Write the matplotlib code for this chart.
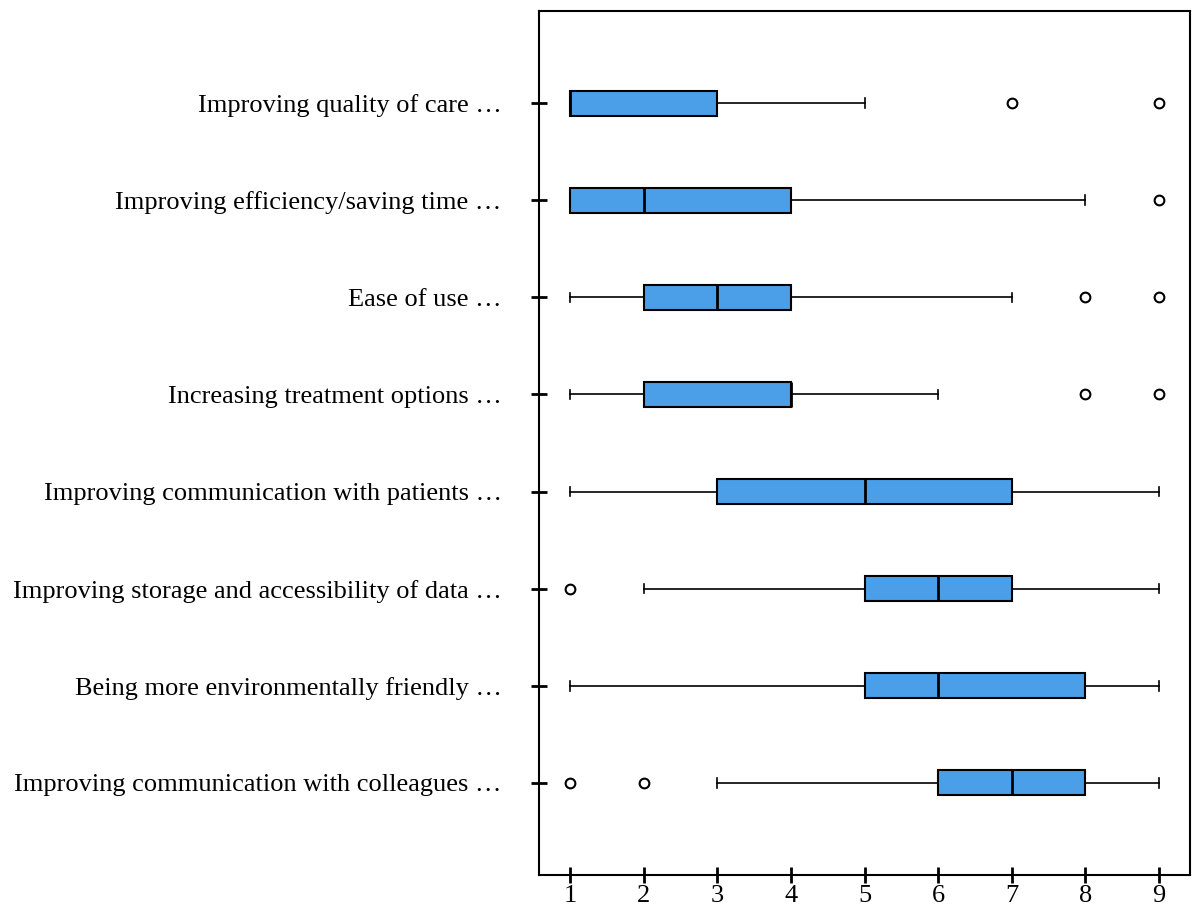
import matplotlib
matplotlib.use('Agg')
import matplotlib.pyplot as plt

# categories listed top to bottom
labels = [
  'Improving quality of care …',
  'Improving efficiency/saving time …',
  'Ease of use …',
  'Increasing treatment options …',
  'Improving communication with patients …',
  'Improving storage and accessibility of data …',
  'Being more environmentally friendly …',
  'Improving communication with colleagues …',
]
whislo = [1, 1, 1, 1, 1, 2, 1, 3]
q1 = [1, 1, 2, 2, 3, 5, 5, 6]
med = [1, 2, 3, 4, 5, 6, 6, 7]
q3 = [3, 4, 4, 4, 7, 7, 8, 8]
whishi = [5, 8, 7, 6, 9, 9, 9, 9]
fliers = [[7, 9], [9], [8, 9], [8, 9], [], [1], [], [1, 2]]
xticks = [1, 2, 3, 4, 5, 6, 7, 8, 9]

plt.rcParams['font.family'] = ['Liberation Serif', 'DejaVu Serif']

stats = []
for i in range(len(labels)):
  stats.append({'whislo': whislo[i], 'q1': q1[i], 'med': med[i], 'q3': q3[i],
                'whishi': whishi[i], 'fliers': fliers[i], 'label': labels[i]})
stats = stats[::-1]  # bxp draws from bottom up
positions = list(range(1, len(stats) + 1))

fig = plt.figure(figsize=(11.92, 9.11), dpi=100)
ax = fig.add_axes([539 / 1192, 36 / 911, 651 / 1192, 864 / 911])

ax.bxp(stats, positions=positions, vert=False, widths=0.26, capwidths=0.1,
       patch_artist=True, showfliers=True,
       boxprops=dict(facecolor='#4A9FE8', edgecolor='black', lw=1.5),
       medianprops=dict(color='black', lw=2),
       whiskerprops=dict(color='black', lw=1.2),
       capprops=dict(color='black', lw=1.2),
       flierprops=dict(marker='o', markerfacecolor='none', markeredgecolor='black',
                       markersize=7, markeredgewidth=1.5))

ax.set_xlim(0.58, 9.42)
ax.set_ylim(0.05, 8.95)
ax.set_xticks(xticks)
ax.set_yticks(positions)
ax.set_yticklabels([s['label'] for s in stats])
ax.tick_params(axis='both', direction='inout', length=12, width=2, labelsize=19)
ax.tick_params(axis='x', pad=1)
ax.tick_params(axis='y', pad=21)
for sp in ax.spines.values():
  sp.set_linewidth(1.5)

fig.savefig('out.png', dpi=100)
